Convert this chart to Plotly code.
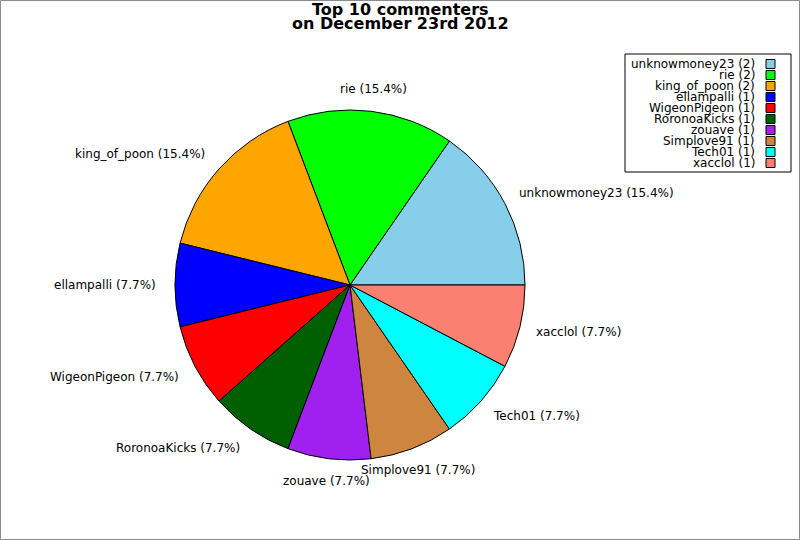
import math
import plotly.graph_objects as go

names = ["unknowmoney23", "rie", "king_of_poon", "ellampalli", "WigeonPigeon",
         "RoronoaKicks", "zouave", "Simplove91", "Tech01", "xacclol"]
counts = [2, 2, 2, 1, 1, 1, 1, 1, 1, 1]
colors = ["#87CEEB", "#00FF00", "#FFA500", "#0000FF", "#FF0000",
          "#005F00", "#A020F0", "#CD853F", "#00FFFF", "#FA8072"]

W, H = 800, 540
cx, cy, r = 350, 285, 175
total = sum(counts)
first_angle = 360 * counts[0] / total

fig = go.Figure()
fig.add_trace(go.Pie(
    labels=names, values=counts, sort=False,
    direction="counterclockwise", rotation=90 - first_angle,
    marker=dict(colors=colors, line=dict(color="black", width=1)),
    textinfo="none", showlegend=False,
    domain=dict(x=[(cx - r) / W, (cx + r) / W], y=[(H - cy - r) / H, (H - cy + r) / H]),
    hoverinfo="skip",
))

annotations = []
# slice labels at 1.1 x radius, derived from the data
cum = 0
for n, c in zip(names, counts):
    mid = 2 * math.pi * (cum + c / 2) / total
    cum += c
    cs, sn = math.cos(mid), math.sin(mid)
    px = cx + 1.1 * r * cs
    py = cy - 1.1 * r * sn
    if abs(cs) < 0.5:
        xa, xs = "center", 0
    elif cs > 0:
        xa, xs = "left", -3
    else:
        xa, xs = "right", 1
    annotations.append(dict(xref="paper", yref="paper", x=px / W, y=1 - py / H,
                            text=f"{n} ({100 * c / total:.1f}%)", showarrow=False,
                            xanchor=xa, yanchor="middle", xshift=xs, yshift=5 * sn,
                            font=dict(family="DejaVu Sans", size=12, color="black")))

shapes = [dict(type="rect", xref="paper", yref="paper", x0=0.0006, x1=0.9994, y0=0.001, y1=0.999,
               line=dict(color="#888888", width=1))]
# legend box
lx0, lx1, ly0, ly1 = 625, 791, 54, 172
shapes.append(dict(type="rect", xref="paper", yref="paper",
                   x0=lx0 / W, x1=lx1 / W, y0=1 - ly1 / H, y1=1 - ly0 / H,
                   line=dict(color="black", width=1), fillcolor="white"))
for i, (n, c, col) in enumerate(zip(names, counts, colors)):
    yc = 64 + i * 11
    shapes.append(dict(type="rect", xref="paper", yref="paper",
                       x0=766 / W, x1=775 / W, y0=1 - (yc + 4.5) / H, y1=1 - (yc - 4.5) / H,
                       line=dict(color="black", width=1), fillcolor=col))
    annotations.append(dict(xref="paper", yref="paper", x=757 / W, y=1 - yc / H,
                            text=f"{n} ({c})", showarrow=False, xanchor="right", yanchor="middle",
                            font=dict(family="DejaVu Sans", size=12, color="black")))

title_lines = ["Top 10 commenters", "on December 23rd 2012"]
for i, t in enumerate(title_lines):
    annotations.append(dict(xref="paper", yref="paper", x=400 / W, y=1 - (10 + 14 * i) / H,
                            text=f"<b>{t}</b>", showarrow=False, xanchor="center", yanchor="middle",
                            font=dict(family="DejaVu Sans", size=16, color="black")))

fig.update_layout(
    width=W, height=H, margin=dict(l=0, r=0, t=0, b=0, autoexpand=False),
    paper_bgcolor="white", plot_bgcolor="white",
    shapes=shapes, annotations=annotations,
)
fig.write_html("out.html", post_script="document.body.style.margin='0';",
               config={"displayModeBar": False})
